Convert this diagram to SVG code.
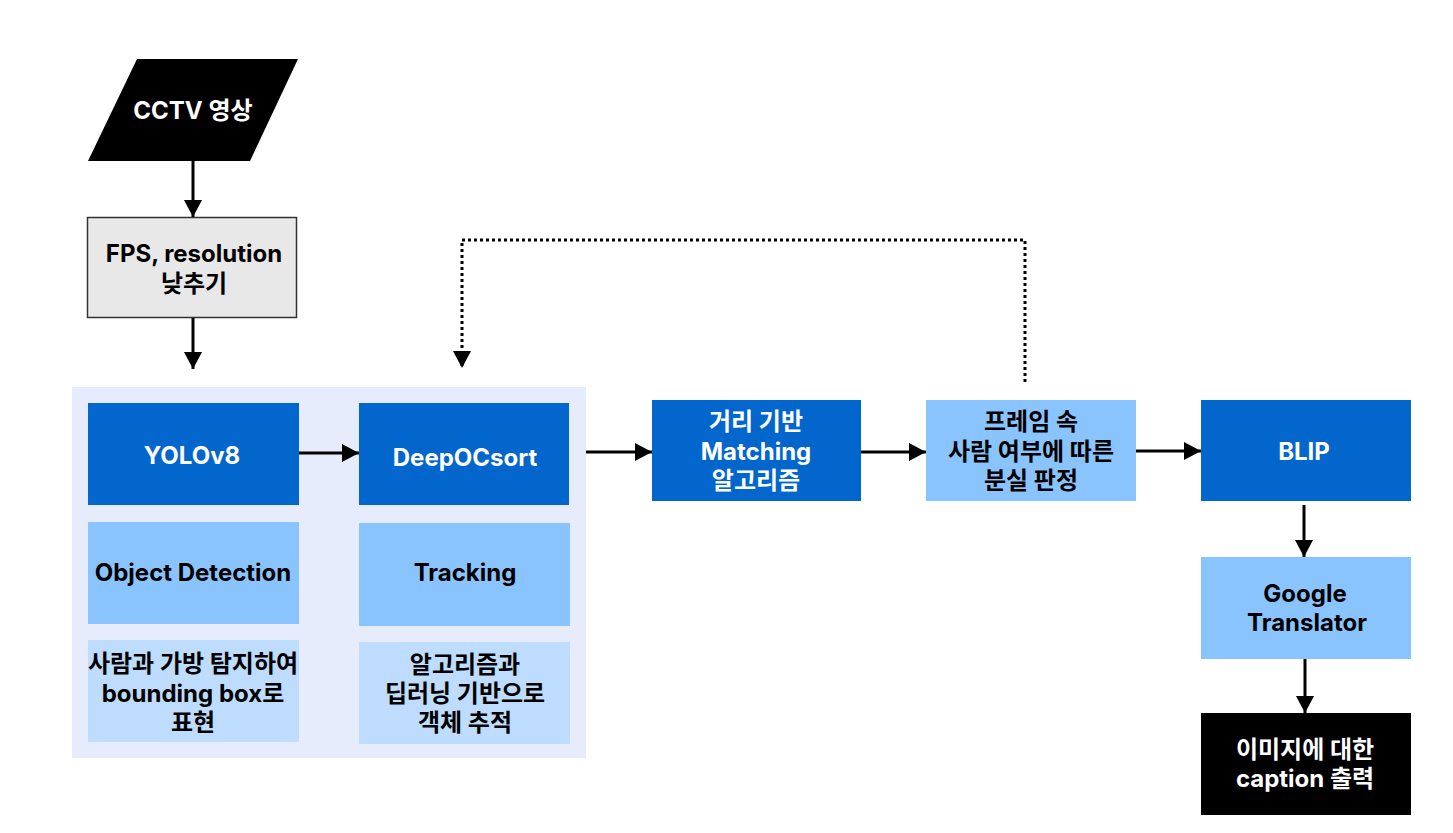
<svg xmlns="http://www.w3.org/2000/svg" width="1453" height="833" viewBox="0 0 1453 833">
<style>
text{font-family:Inter,"Noto Sans CJK KR",sans-serif;font-weight:700;font-size:24px;text-anchor:middle;dominant-baseline:central}
.w{fill:#fff}.k{fill:#000}
.dark{fill:#0366cc}.mid{fill:#8ac4fe}.lite{fill:#bddcfe}
.ln{stroke:#000;stroke-width:3;fill:none}
</style>
<defs>
<marker id="a" viewBox="0 0 17 18" refX="17" refY="9" markerWidth="17" markerHeight="18" markerUnits="userSpaceOnUse" orient="auto"><path d="M0,0 L17,9 L0,18 z" fill="#000"/></marker>
</defs>
<rect width="1453" height="833" fill="#fff"/>
<g id="group-bg"><rect x="72" y="387" width="514" height="371" fill="#e6ecfc"/></g>
<g id="cctv"><polygon points="137,59 298,59 250,161 88,161" fill="#000"/><text class="w" x="193" y="110">CCTV 영상</text></g>
<g id="fps"><rect x="87.5" y="217.5" width="209" height="100" fill="#e8e8e8" stroke="#333" stroke-width="1.5"/><text class="k" x="194" y="253">FPS, resolution</text><text class="k" x="194" y="283">낮추기</text></g>
<g id="yolo"><rect class="dark" x="88" y="403" width="211" height="102"/><text class="w" x="192" y="455">YOLOv8</text></g>
<g id="deep"><rect class="dark" x="359" y="403" width="210" height="102"/><text class="w" x="465" y="457">DeepOCsort</text></g>
<g id="objdet"><rect class="mid" x="88" y="522" width="211" height="102"/><text class="k" x="193" y="572">Object Detection</text></g>
<g id="tracking"><rect class="mid" x="359" y="523" width="211" height="103"/><text class="k" x="465" y="572">Tracking</text></g>
<g id="desc1"><rect class="lite" x="88" y="640" width="211" height="102"/><text class="k" x="193" y="663">사람과 가방 탐지하여</text><text class="k" x="193" y="693">bounding box로</text><text class="k" x="193" y="722">표현</text></g>
<g id="desc2"><rect class="lite" x="359" y="642" width="211" height="102"/><text class="k" x="465" y="664">알고리즘과</text><text class="k" x="465" y="693">딥러닝 기반으로</text><text class="k" x="465" y="722">객체 추적</text></g>
<g id="match"><rect class="dark" x="652" y="400" width="209" height="101"/><text class="w" x="756" y="421">거리 기반</text><text class="w" x="756" y="451">Matching</text><text class="w" x="756" y="480">알고리즘</text></g>
<g id="frame"><rect class="mid" x="926" y="400" width="210" height="101"/><text class="k" x="1031" y="421">프레임 속</text><text class="k" x="1031" y="451">사람 여부에 따른</text><text class="k" x="1031" y="480">분실 판정</text></g>
<g id="blip"><rect class="dark" x="1201" y="400" width="210" height="101"/><text class="w" x="1304" y="451">BLIP</text></g>
<g id="google"><rect class="mid" x="1201" y="557" width="210" height="102"/><text class="k" x="1305" y="593">Google</text><text class="k" x="1307" y="622">Translator</text></g>
<g id="caption"><rect x="1201" y="713" width="210" height="102" fill="#000"/><text class="w" x="1305" y="749">이미지에 대한</text><text class="w" x="1305" y="778">caption 출력</text></g>
<g id="connectors">
<line class="ln" x1="193" y1="161" x2="193" y2="217" marker-end="url(#a)"/>
<line class="ln" x1="193" y1="318" x2="193" y2="369" marker-end="url(#a)"/>
<line class="ln" x1="299" y1="453" x2="359" y2="453" marker-end="url(#a)"/>
<line class="ln" x1="586" y1="452" x2="652" y2="452" marker-end="url(#a)"/>
<line class="ln" x1="861" y1="452" x2="926" y2="452" marker-end="url(#a)"/>
<line class="ln" x1="1136" y1="451" x2="1201" y2="451" marker-end="url(#a)"/>
<line class="ln" x1="1304" y1="505" x2="1304" y2="557" marker-end="url(#a)"/>
<line class="ln" x1="1305" y1="659" x2="1305" y2="713" marker-end="url(#a)"/>
<polyline class="ln" points="1025,382 1025,240 462,240 462,368" stroke-dasharray="3,3" marker-end="url(#a)"/>
</g>
</svg>
